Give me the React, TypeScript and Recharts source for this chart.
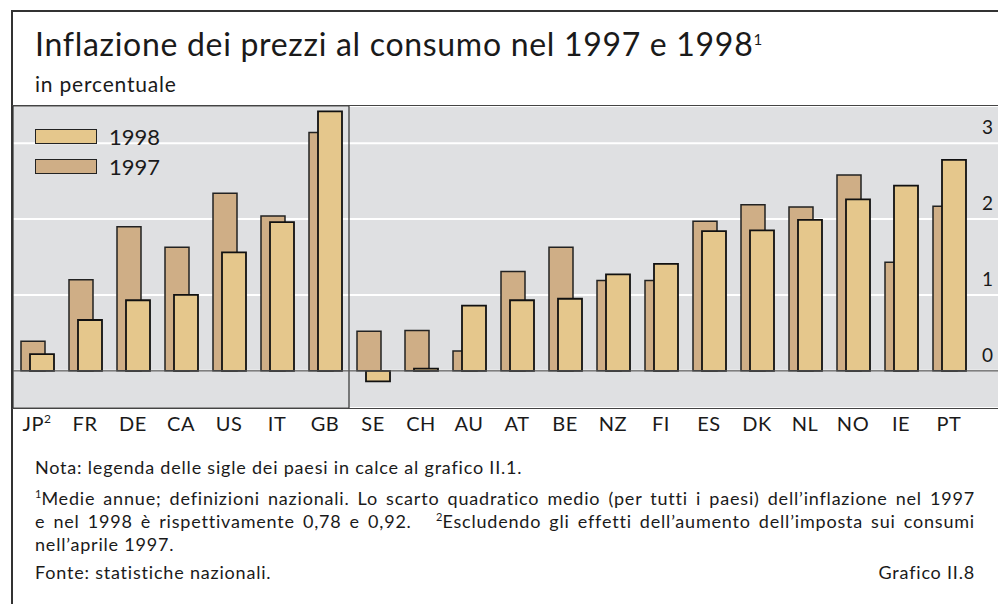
import { BarChart, Bar, XAxis, YAxis, CartesianGrid, ReferenceLine, ReferenceArea, Legend } from 'recharts'

const countries = ['JP', 'FR', 'DE', 'CA', 'US', 'IT', 'GB', 'SE', 'CH', 'AU', 'AT', 'BE', 'NZ', 'FI', 'ES', 'DK', 'NL', 'NO', 'IE', 'PT']
const infl1997 = [0.39, 1.2, 1.9, 1.63, 2.34, 2.04, 3.14, 0.52, 0.53, 0.26, 1.31, 1.63, 1.19, 1.19, 1.97, 2.19, 2.16, 2.58, 1.43, 2.17]
const infl1998 = [0.22, 0.67, 0.93, 1.0, 1.56, 1.96, 3.42, -0.14, 0.03, 0.86, 0.93, 0.95, 1.27, 1.41, 1.84, 1.85, 1.99, 2.26, 2.44, 2.78]
const yTicks = [0, 1, 2, 3]

const data = countries.map((c, i) => ({ country: c, y1997: infl1997[i], y1998: infl1998[i] }))

const FONT = 'Lato, "Open Sans", sans-serif'
const INK = '#1a1a1a'
const C1997 = '#cfae86'
const C1998 = '#e5c78c'

function CountryTick({ x, y, payload }: any) {
  const v = payload.value
  return (
    <text x={x} y={y} dy={15} textAnchor="middle" fontSize={20} letterSpacing={0.5} fill={INK} fontFamily={FONT}>
      {v}
      {v === 'JP' && <tspan dy={-8} fontSize={12}>2</tspan>}
    </text>
  )
}

function ValueTick({ x, y, payload }: any) {
  return (
    <text x={x} y={y} dy={-9} textAnchor="end" fontSize={19} fill={INK} fontFamily={FONT}>
      {payload.value}
    </text>
  )
}

function YearLegend({ payload }: any) {
  const items = [...(payload || [])].reverse()
  return (
    <div style={{ fontFamily: FONT }}>
      {items.map((p: any) => (
        <div key={p.value} style={{ display: 'flex', alignItems: 'center', height: 30 }}>
          <span style={{ width: 60, height: 13, background: p.color, border: '1.5px solid #222', marginRight: 12 }} />
          <span style={{ fontSize: 22, color: INK }}>{p.value}</span>
        </div>
      ))}
    </div>
  )
}

const note = { fontSize: 18, letterSpacing: 0.8, lineHeight: '23px' }
const supStyle = { fontSize: 11, letterSpacing: 0, lineHeight: 0 }

export default function App() {
  return (
    <div style={{ position: 'absolute', left: 0, top: 0, width: 998, height: 604, background: '#fff', fontFamily: FONT, color: INK, overflow: 'hidden' }}>
      {/* frame */}
      <div style={{ position: 'absolute', left: 11, top: 10, width: 987, height: 594, borderLeft: '2px solid #333', borderTop: '2px solid #333' }} />
      <div style={{ position: 'absolute', left: 35, top: 24, fontSize: 32, letterSpacing: 0.7, lineHeight: '40px', whiteSpace: 'nowrap' }}>
        Inflazione dei prezzi al consumo nel 1997 e 1998<sup style={{ fontSize: 15, verticalAlign: 'top', lineHeight: '30px', letterSpacing: 0 }}>1</sup>
      </div>
      <div style={{ position: 'absolute', left: 35, top: 72, fontSize: 21, letterSpacing: 0.8, lineHeight: '24px' }}>in percentuale</div>

      <div style={{ position: 'absolute', left: 0, top: 0 }}>
        <BarChart
          width={998}
          height={440}
          data={data}
          barSize={24}
          barGap={-15}
          margin={{ top: 106, right: 0, left: 13, bottom: 0 }}
        >
          <CartesianGrid vertical={false} stroke="#ffffff" strokeWidth={2} fill="#dfe0e2" />
          <XAxis
            dataKey="country"
            height={32}
            padding={{ left: 0, right: 25 }}
            axisLine={false}
            tickLine={false}
            tickSize={0}
            tickMargin={8}
            interval={0}
            tick={<CountryTick />}
          />
          <YAxis
            orientation="right"
            mirror
            domain={[-0.49, 3.49]}
            ticks={yTicks}
            axisLine={false}
            tickLine={false}
            tickSize={0}
            tickMargin={5}
            tick={<ValueTick />}
          />
          <ReferenceArea x1="JP" x2="GB" fill="none" stroke="#333" strokeWidth={1.2} />
          <ReferenceLine y={0} stroke="#555" strokeWidth={1.2} />
          <Legend
            layout="vertical"
            align="center"
            verticalAlign="middle"
            wrapperStyle={{ left: 35, top: 121, width: 'auto' }}
            content={<YearLegend />}
          />
          <Bar dataKey="y1997" name="1997" fill={C1997} stroke="#222" strokeWidth={1.5} isAnimationActive={false} />
          <Bar dataKey="y1998" name="1998" fill={C1998} stroke="#111" strokeWidth={1.8} isAnimationActive={false} />
        </BarChart>
      </div>

      {/* plot box edges */}
      <div style={{ position: 'absolute', left: 12, top: 105, width: 986, height: 302, borderTop: '1.5px solid #444', borderBottom: '1.5px solid #444', pointerEvents: 'none' }} />

      <div style={{ position: 'absolute', left: 35, width: 940, top: 456, ...note }}>
        <div style={{ marginBottom: 8 }}>Nota: legenda delle sigle dei paesi in calce al grafico II.1.</div>
        <div style={{ textAlign: 'justify', textAlignLast: 'justify' }}>
          <sup style={supStyle}>1</sup>Medie annue; definizioni nazionali. Lo scarto quadratico medio (per tutti i paesi) dell’inflazione nel 1997
        </div>
        <div style={{ textAlign: 'justify', textAlignLast: 'justify' }}>
          e nel 1998 è rispettivamente 0,78 e 0,92.&nbsp;&nbsp;&nbsp;<sup style={supStyle}>2</sup>Escludendo gli effetti dell’aumento dell’imposta sui consumi
        </div>
        <div>nell’aprile 1997.</div>
        <div style={{ display: 'flex', justifyContent: 'space-between', marginTop: 5 }}>
          <span>Fonte: statistiche nazionali.</span>
          <span>Grafico II.8</span>
        </div>
      </div>
    </div>
  )
}
